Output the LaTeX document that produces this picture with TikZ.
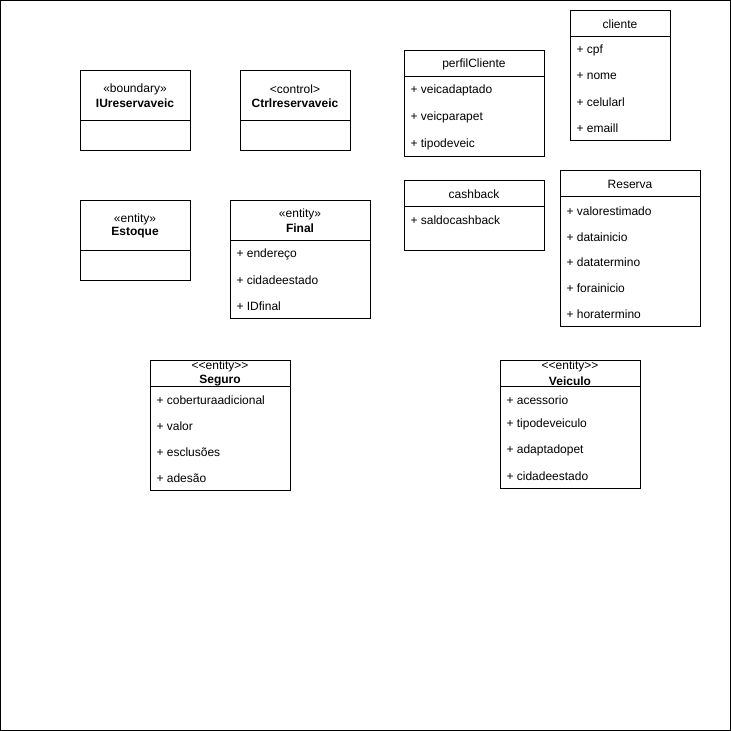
\documentclass[tikz,border=0pt]{standalone}
\usepackage{fontspec}
\setmainfont{Liberation Sans}
\begin{document}
\begin{tikzpicture}[x=1pt,y=-1pt,line width=1pt,
  box/.style={draw=black,line width=1pt},
  title/.style={font=\fontsize{12}{14}\selectfont,anchor=center,inner sep=0pt,yshift=-1pt},
  btitle/.style={font=\fontsize{12}{14}\selectfont\bfseries,anchor=center,inner sep=0pt,yshift=-1pt},
  stereo/.style={font=\fontsize{12}{14}\selectfont,anchor=center,inner sep=0pt,yshift=-1pt},
  smallstereo/.style={font=\fontsize{12}{14}\selectfont,anchor=center,inner sep=0pt},
  attr/.style={font=\fontsize{12}{14}\selectfont,anchor=west,inner sep=0pt,yshift=-1.5pt}]
\useasboundingbox (0,0) rectangle (731,731);
\draw[black] (0.5,0.5) rectangle (730,730);

% IUreservaveic
\draw[box] (80,70) rectangle (190,150);
\draw[box] (80,120) -- (190,120);
\node[stereo] (iuS) at (135,88) {«boundary»};
\node[btitle] (iuN) at (135,102) {IUreservaveic};

% Ctrlreservaveic
\draw[box] (240,70) rectangle (350,150);
\draw[box] (240,120) -- (350,120);
\node[stereo] (ctS) at (295,88) {<control>};
\node[btitle] (ctN) at (295,102) {Ctrlreservaveic};

% Estoque
\draw[box] (80,200) rectangle (190,280);
\draw[box] (80,250) -- (190,250);
\node[stereo] (esS) at (135,218) {«entity»};
\node[btitle] (esN) at (135,232) {Estoque};

% Final
\draw[box] (230,200) rectangle (370,318);
\draw[box] (230,240) -- (370,240);
\node[stereo] (fiS) at (300,213) {«entity»};
\node[btitle] (fiN) at (300,227) {Final};
\node[attr] (fi1) at (236,253) {+ endereço};
\node[attr] (fi2) at (236,279) {+ cidadeestado};
\node[attr] (fi3) at (236,305) {+ IDfinal};

% perfilCliente
\draw[box] (404,50) rectangle (544,156);
\draw[box] (404,76) -- (544,76);
\node[title] (pcN) at (474,63) {perfilCliente};
\node[attr] (pc1) at (410,89) {+ veicadaptado};
\node[attr] (pc2) at (410,116) {+ veicparapet};
\node[attr] (pc3) at (410,143) {+ tipodeveic};

% cliente
\draw[box] (570,10) rectangle (670,140);
\draw[box] (570,36) -- (670,36);
\node[title] (clN) at (620,23) {cliente};
\node[attr] (cl1) at (576,49) {+ cpf};
\node[attr] (cl2) at (576,75) {+ nome};
\node[attr] (cl3) at (576,101) {+ celularl};
\node[attr] (cl4) at (576,127) {+ emaill};

% cashback
\draw[box] (404,180) rectangle (544,250);
\draw[box] (404,206) -- (544,206);
\node[title] (cbN) at (474,193) {cashback};
\node[attr] (cb1) at (410,219) {+ saldocashback};

% Reserva
\draw[box] (560,170) rectangle (700,326);
\draw[box] (560,196) -- (700,196);
\node[title] (reN) at (630,183) {Reserva};
\node[attr] (re1) at (566,210) {+ valorestimado};
\node[attr] (re2) at (566,236) {+ datainicio};
\node[attr] (re3) at (566,261) {+ datatermino};
\node[attr] (re4) at (566,287) {+ forainicio};
\node[attr] (re5) at (566,313) {+ horatermino};

% Seguro
\draw[box] (150,360) rectangle (290,490);
\draw[box] (150,386) -- (290,386);
\node[smallstereo] (seS) at (220,366) {<{}<entity>{}>};
\node[btitle] (seN) at (220,380) {Seguro};
\node[attr] (se1) at (156,399) {+ coberturaadicional};
\node[attr] (se2) at (156,425) {+ valor};
\node[attr] (se3) at (156,451) {+ esclusões};
\node[attr] (se4) at (156,477) {+ adesão};

% Veiculo
\draw[box] (500,360) rectangle (640,488);
\draw[box] (500,386) -- (640,386);
\node[smallstereo] (veS) at (570,366) {<{}<entity>{}>};
\node[btitle] (veN) at (570,380) {Veiculo};
\node[attr] (ve1) at (506,399) {+ acessorio};
\node[attr] (ve2) at (506,423) {+ tipodeveiculo};
\node[attr] (ve3) at (506,449) {+ adaptadopet};
\node[attr] (ve4) at (506,475) {+ cidadeestado};
\end{tikzpicture}
\end{document}
